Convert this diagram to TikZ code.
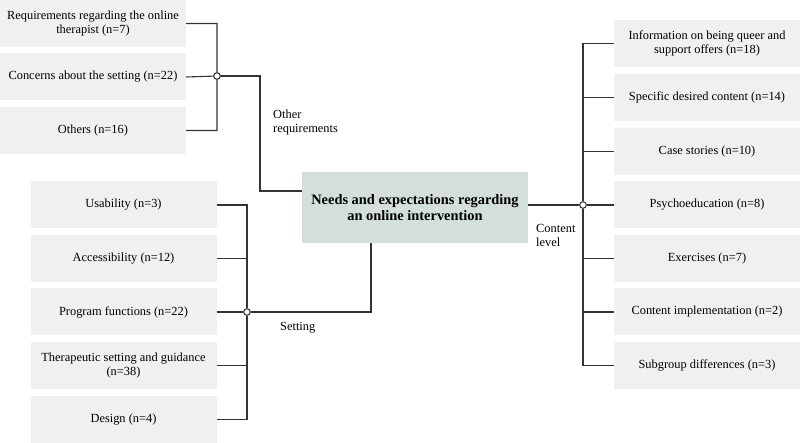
\documentclass[tikz,border=0pt]{standalone}
\usepackage{fontspec}
\setmainfont{Liberation Serif}
\usetikzlibrary{positioning}
\definecolor{catgray}{HTML}{F0F0F0}
\definecolor{coregreen}{HTML}{D3DFD8}
\definecolor{linegray}{HTML}{333333}

\tikzset{
	catbox/.style={fill=catgray, minimum width=186pt, minimum height=47pt,
		inner sep=0pt, align=center, font=\fontsize{12.4}{13.6}\selectfont},
	corebox/.style={fill=coregreen, minimum width=226pt, minimum height=71pt,
		inner sep=0pt, align=center, font=\fontsize{14.4}{16}\selectfont\bfseries},
	hub/.style={circle, draw=linegray, fill=white, line width=0.9pt,
		inner sep=0pt, minimum size=6.5pt},
	branchlabel/.style={align=left, inner sep=0pt, font=\fontsize{12.4}{13.6}\selectfont},
	link/.style={draw=linegray, line width=1.1pt}
}

\begin{document}
\begin{tikzpicture}[x=1pt, y=-1pt, line join=miter]
	\useasboundingbox (0,0) rectangle (800,443);
	
	% Central node
	\node[corebox] (core) at (415,207.5) {Needs and expectations regarding\\an online intervention};
	
	% Other requirements (top left)
	\node[catbox] (req1) at (93,23.5) {Requirements regarding the online\\therapist (n=7)};
	\node[catbox] (req2) at (93,77) {Concerns about the setting (n=22)};
	\node[catbox] (req3) at (93,130.5) {Others (n=16)};
	
	% Setting (bottom left)
	\node[catbox] (set1) at (123.5,205) {Usability (n=3)};
	\node[catbox] (set2) at (123.5,258.5) {Accessibility (n=12)};
	\node[catbox] (set3) at (123.5,312) {Program functions (n=22)};
	\node[catbox] (set4) at (123.5,365.5) {Therapeutic setting and guidance\\(n=38)};
	\node[catbox] (set5) at (123.5,419.5) {Design (n=4)};
	
	% Content level (right)
	\node[catbox] (con1) at (707,43.5) {Information on being queer and\\support offers (n=18)};
	\node[catbox] (con2) at (707,97.5) {Specific desired content (n=14)};
	\node[catbox] (con3) at (707,151.5) {Case stories (n=10)};
	\node[catbox] (con4) at (707,205) {Psychoeducation (n=8)};
	\node[catbox] (con5) at (707,258.5) {Exercises (n=7)};
	\node[catbox] (con6) at (707,312) {Content implementation (n=2)};
	\node[catbox] (con7) at (707,365.5) {Subgroup differences (n=3)};
	
	% Hubs and elbows
	\node[hub] (hubReq) at (217,76) {};
	\node[hub] (hubSet) at (247,312) {};
	\node[hub] (hubCon) at (583,205) {};
	\coordinate (elbowReq) at (260,191);
	\coordinate (footCore) at (371,243);
	
	% Branch labels
	\node[branchlabel, anchor=north west] (lblReq) at (273,110) {Other\\requirements};
	\node[branchlabel, anchor=north west] (lblSet) at (280,322) {Setting};
	\node[branchlabel, anchor=north west] (lblCon) at (536,224) {Content\\level};
	
	% Connectors
	\draw[link] (req1.east) -| (hubReq) (req2.east) -- (hubReq) (req3.east) -| (hubReq);
	\draw[link] (hubReq) -| (elbowReq) -- (elbowReq -| core.west);
	\foreach \i in {1,2,4,5}
		\draw[link] (set\i.east) -| (hubSet);
	\draw[link] (set3.east) -- (hubSet);
	\draw[link] (footCore) |- (hubSet);
	\foreach \i in {1,2,3,5,6,7}
		\draw[link] (con\i.west) -| (hubCon);
	\draw[link] (con4.west) -- (hubCon);
	\draw[link] (core.east |- hubCon) -- (hubCon);
	
	% Hubs on top
	\node[hub] at (hubReq) {};
	\node[hub] at (hubSet) {};
	\node[hub] at (hubCon) {};
\end{tikzpicture}
\end{document}
